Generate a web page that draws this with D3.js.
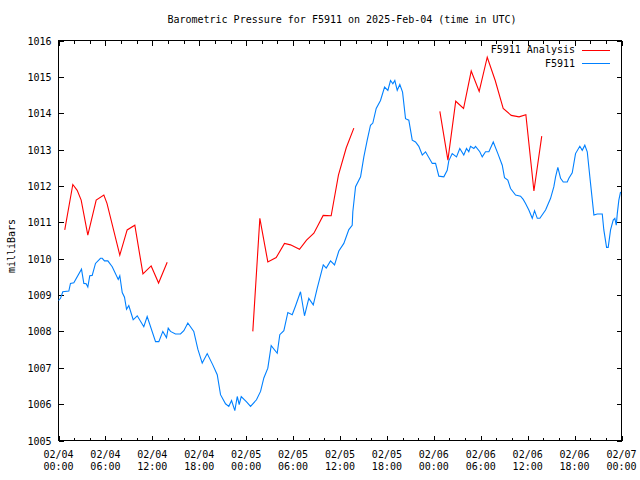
<!DOCTYPE html>
<html>
<head>
<meta charset="utf-8">
<script src="https://cdn.jsdelivr.net/npm/d3@7"></script>
<style>
  html, body { margin: 0; padding: 0; background: #fff; }
  svg { display: block; }
  text { font-family: "DejaVu Sans Mono", "Liberation Mono", monospace; font-size: 10px; fill: #000; }
</style>
</head>
<body>
<svg id="chart" width="640" height="480"></svg>
<script>
// ---------------- DATA ----------------
const titleText = "Barometric Pressure for F5911 on 2025-Feb-04 (time in UTC)";
const yLabel = "milliBars";
const startTime = "2025-02-04T00:00:00Z";
const endTime = "2025-02-07T00:00:00Z";
const yTicks = [1005, 1006, 1007, 1008, 1009, 1010, 1011, 1012, 1013, 1014, 1015, 1016];
const seriesNames = ["F5911 Analysis", "F5911"];
const seriesColors = ["#ff0000", "#0080ff"];

// hours since 2025-02-04 00:00 UTC, pressure in mbar
const analysisSeg1 = [
  [0.8, 1010.79], [1.83, 1012.04], [2.39, 1011.88], [2.9, 1011.61], [3.75, 1010.65],
  [4.82, 1011.61], [5.8, 1011.75], [6.2, 1011.52], [7.84, 1010.10], [8.78, 1010.79],
  [9.76, 1010.92], [10.8, 1009.58], [11.85, 1009.80], [12.8, 1009.33], [13.9, 1009.90]
];
const analysisSeg2 = [
  [24.85, 1008.0], [25.75, 1011.11], [26.77, 1009.91], [27.84, 1010.03], [28.9, 1010.42],
  [29.67, 1010.38], [30.82, 1010.26], [31.72, 1010.51], [32.66, 1010.70], [33.85, 1011.19],
  [34.87, 1011.18], [35.8, 1012.3], [36.8, 1013.05], [37.77, 1013.59]
];
const analysisSeg3 = [
  [48.77, 1014.05], [49.8, 1012.71], [50.8, 1014.33], [51.8, 1014.13], [52.78, 1015.16],
  [53.8, 1014.60], [54.83, 1015.54], [55.85, 1014.90], [56.87, 1014.13], [57.9, 1013.94],
  [58.9, 1013.90], [59.77, 1013.96], [60.8, 1011.86], [61.8, 1013.37]
];
const observed = [
  [0.0, 1008.85], [0.26, 1008.91], [0.55, 1009.09], [1.32, 1009.11], [1.53, 1009.32], [1.96, 1009.34],
  [2.94, 1009.71], [3.24, 1009.32], [3.54, 1009.31], [3.75, 1009.22], [4.00, 1009.53], [4.31, 1009.54],
  [4.73, 1009.87], [5.37, 1010.01], [5.59, 1010.01], [5.88, 1009.94], [6.31, 1009.94], [6.87, 1009.78],
  [7.64, 1009.43], [7.84, 1009.53], [8.15, 1009.07], [8.44, 1008.94], [8.70, 1008.61], [8.99, 1008.71],
  [9.55, 1008.32], [10.07, 1008.43], [10.91, 1008.13], [11.34, 1008.41], [12.41, 1007.72], [12.83, 1007.72],
  [13.34, 1008.00], [13.81, 1007.83], [14.03, 1008.09], [14.32, 1008.00], [14.96, 1007.93], [15.60, 1007.93],
  [16.03, 1008.02], [16.54, 1008.23], [17.30, 1008.00], [17.82, 1007.51], [18.38, 1007.13], [19.02, 1007.39],
  [19.73, 1007.08], [20.30, 1006.81], [20.72, 1006.26], [21.36, 1006.01], [21.78, 1005.94], [22.13, 1006.10],
  [22.55, 1005.82], [22.86, 1006.21], [23.11, 1005.99], [23.37, 1006.21], [24.05, 1006.06], [24.56, 1005.94],
  [25.32, 1006.12], [25.84, 1006.35], [26.26, 1006.72], [26.77, 1006.99], [27.20, 1007.61], [27.97, 1007.40],
  [28.30, 1007.91], [28.82, 1008.02], [29.33, 1008.52], [29.89, 1008.46], [30.31, 1008.70], [30.95, 1009.09],
  [31.46, 1008.43], [32.01, 1008.91], [32.58, 1008.73], [33.09, 1009.19], [33.86, 1009.83], [34.24, 1009.74],
  [34.79, 1009.94], [35.30, 1009.83], [35.85, 1010.21], [36.49, 1010.42], [37.13, 1010.80], [37.56, 1010.92],
  [37.64, 1011.29], [37.99, 1011.98], [38.63, 1012.25], [39.05, 1012.80], [39.48, 1013.26], [39.90, 1013.67],
  [40.20, 1013.73], [40.63, 1014.13], [41.18, 1014.35], [41.70, 1014.72], [42.12, 1014.63], [42.46, 1014.90],
  [42.76, 1014.81], [43.01, 1014.90], [43.32, 1014.63], [43.65, 1014.79], [44.00, 1014.58], [44.38, 1013.85],
  [44.80, 1013.81], [45.24, 1013.26], [45.66, 1013.21], [46.08, 1013.09], [46.52, 1012.85], [46.94, 1012.94],
  [47.80, 1012.62], [48.22, 1012.62], [48.64, 1012.27], [49.28, 1012.25], [49.71, 1012.43], [49.91, 1012.69],
  [50.35, 1012.89], [50.90, 1012.80], [51.32, 1013.03], [51.83, 1012.85], [52.18, 1013.03], [52.47, 1012.94],
  [52.69, 1013.09], [53.12, 1013.03], [53.33, 1013.09], [53.88, 1012.94], [54.19, 1012.80], [54.61, 1012.94],
  [55.04, 1012.94], [55.60, 1013.21], [56.19, 1012.89], [56.75, 1012.57], [57.04, 1012.23], [57.46, 1012.16],
  [57.81, 1011.93], [58.45, 1011.75], [59.09, 1011.72], [59.43, 1011.63], [59.73, 1011.52], [60.15, 1011.34],
  [60.59, 1011.11], [60.88, 1011.32], [61.23, 1011.11], [61.56, 1011.11], [62.29, 1011.34], [62.93, 1011.66],
  [63.35, 1011.98], [63.57, 1012.25], [63.86, 1012.51], [64.21, 1012.21], [64.55, 1012.11], [65.06, 1012.11],
  [65.27, 1012.21], [65.70, 1012.36], [66.12, 1012.89], [66.67, 1013.09], [66.98, 1012.98], [67.31, 1013.12],
  [67.62, 1012.94], [68.04, 1012.07], [68.47, 1011.20], [68.90, 1011.23], [69.54, 1011.23], [69.74, 1010.79],
  [70.09, 1010.31], [70.30, 1010.31], [70.60, 1010.79], [70.94, 1011.06], [71.15, 1011.11], [71.33, 1010.92],
  [71.46, 1011.24], [71.66, 1011.61], [71.88, 1011.84]
];

// ---------------- CHART ----------------
const svg = d3.select("#chart");
const L = 58.5, R = 621.5, T = 40.5, B = 440.5;
const t0 = new Date(startTime), t1 = new Date(endTime);
const toDate = h => new Date(t0.getTime() + h * 3600 * 1000);

const x = d3.scaleUtc().domain([t0, t1]).range([L, R]);
const y = d3.scaleLinear().domain([1005, 1016]).range([B, T]);

const majorTicks = d3.utcHour.every(6).range(t0, new Date(t1.getTime() + 1));
const minorTicks = d3.utcHour.every(2).range(t0, new Date(t1.getTime() + 1)).filter(d => d.getUTCHours() % 6 !== 0);
const fmtDate = d3.utcFormat("%m/%d");
const fmtTime = d3.utcFormat("%H:%M");

svg.append("g").attr("transform", `translate(0,${B})`)
  .call(d3.axisBottom(x).tickValues(majorTicks).tickSizeInner(-5).tickSizeOuter(0).tickFormat(""));
svg.append("g").attr("transform", `translate(0,${B})`)
  .call(d3.axisBottom(x).tickValues(minorTicks).tickSizeInner(-3).tickSizeOuter(0).tickFormat(""));
svg.append("g").attr("transform", `translate(0,${T})`)
  .call(d3.axisTop(x).tickValues(majorTicks).tickSizeInner(-5).tickSizeOuter(0).tickFormat(""));
svg.append("g").attr("transform", `translate(0,${T})`)
  .call(d3.axisTop(x).tickValues(minorTicks).tickSizeInner(-3).tickSizeOuter(0).tickFormat(""));
const axLeft = svg.append("g").attr("transform", `translate(${L},0)`)
  .call(d3.axisLeft(y).tickValues(yTicks).tickSizeInner(-5).tickSizeOuter(0).tickFormat(d3.format("d")));
svg.append("g").attr("transform", `translate(${R},0)`)
  .call(d3.axisRight(y).tickValues(yTicks).tickSizeInner(-5).tickSizeOuter(0).tickFormat(""));

svg.selectAll(".domain").remove();
svg.selectAll(".tick line").attr("stroke", "#000").attr("shape-rendering", "crispEdges");
axLeft.selectAll("text").attr("font-family", null).attr("font-size", null).attr("x", -7).attr("dy", "0.35em");

// two-line x labels
majorTicks.forEach(d => {
  const t = svg.append("text").attr("text-anchor", "middle").attr("x", x(d));
  t.append("tspan").attr("x", x(d)).attr("y", 458).text(fmtDate(d));
  t.append("tspan").attr("x", x(d)).attr("y", 470).text(fmtTime(d));
});

// frame
svg.append("rect").attr("x", L).attr("y", T).attr("width", R - L).attr("height", B - T)
  .attr("fill", "none").attr("stroke", "#000").attr("shape-rendering", "crispEdges");

// lines
const line = d3.line().x(d => x(toDate(d[0]))).y(d => y(d[1]));
[analysisSeg1, analysisSeg2, analysisSeg3].forEach(seg => {
  svg.append("path").datum(seg).attr("d", line)
    .attr("fill", "none").attr("stroke", seriesColors[0]).attr("stroke-width", 1.1);
});
svg.append("path").datum(observed).attr("d", line)
  .attr("fill", "none").attr("stroke", seriesColors[1]).attr("stroke-width", 1.1);

// title
svg.append("text").attr("x", (L + R) / 2 + 2).attr("y", 23).attr("text-anchor", "middle").text(titleText);

// y label
svg.append("text").attr("transform", "translate(15,246) rotate(-90)").attr("text-anchor", "middle").text(yLabel);

// legend
seriesNames.forEach((name, i) => {
  const ly = 49.5 + i * 13.5;
  svg.append("text").attr("x", 575).attr("y", ly).attr("dy", "0.35em").attr("text-anchor", "end").text(name);
  svg.append("line").attr("x1", 582).attr("x2", 610).attr("y1", Math.round(ly) + 0.5).attr("y2", Math.round(ly) + 0.5)
    .attr("stroke", seriesColors[i]).attr("stroke-width", 1);
});
</script>
</body>
</html>
